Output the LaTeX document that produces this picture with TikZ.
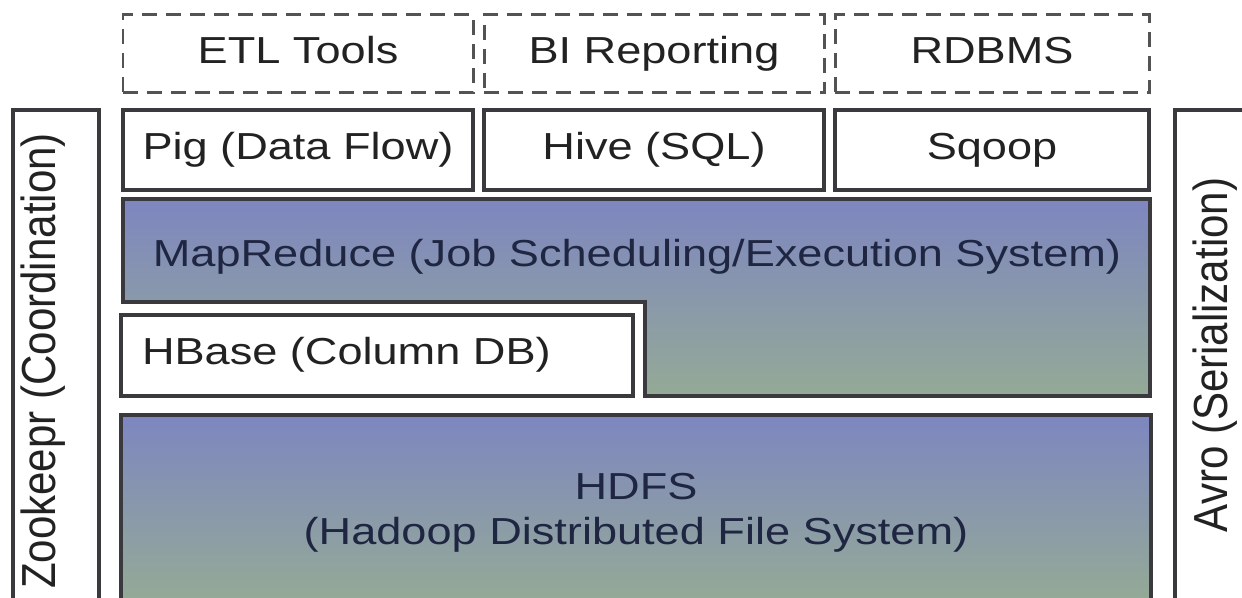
\documentclass[tikz,border=0pt]{standalone}
\usepackage{fontspec}
\newfontfamily\archfont[FakeStretch=1.2]{Liberation Sans}
\newfontfamily\sidefont[FakeStretch=0.88]{Liberation Sans}
\definecolor{layertop}{RGB}{126,134,192}
\definecolor{layerbot}{RGB}{148,170,150}
\definecolor{edge}{RGB}{58,58,62}
\definecolor{ink}{RGB}{34,34,34}
\definecolor{layerink}{RGB}{30,38,66}
\tikzset{
  outside/.style={draw=gray!65!black, line width=0.85pt, dash pattern=on 0.15cm off 0.09cm, minimum height=0.78cm, inner sep=0pt, text height=0.27cm, text depth=0.08cm, text=ink, font=\archfont\fontsize{10.7pt}{12.8pt}\selectfont},
  tool/.style={draw=edge, line width=1.1pt, fill=white, minimum height=0.8cm, inner sep=0pt, text height=0.27cm, text depth=0.08cm, text=ink, font=\archfont\fontsize{10.7pt}{12.8pt}\selectfont},
  layer/.style={draw=edge, line width=1.3pt, top color=layertop, bottom color=layerbot},
  layertext/.style={inner sep=0pt, align=center, text=layerink, font=\archfont\fontsize{10.7pt}{12.8pt}\selectfont},
  side/.style={draw=edge, line width=1.1pt, fill=white, minimum height=5cm, inner sep=0pt},
  sidetext/.style={rotate=90, inner sep=0pt, text=ink, font=\sidefont\fontsize{13.6pt}{16pt}\selectfont}
}
\begin{document}
\begin{tikzpicture}
\useasboundingbox (0,0) rectangle (12.42,5.98);
\clip (0,0) rectangle (12.42,5.98);

\node[outside, minimum width=3.5cm] (etl) at (2.98,5.44) {ETL Tools};
\node[outside, minimum width=3.4cm] (bi) at (6.54,5.44) {BI Reporting};
\node[outside, minimum width=3.14cm] (rdbms) at (9.92,5.44) {RDBMS};

\node[tool, minimum width=3.5cm] (pig) at (2.98,4.48) {Pig (Data Flow)};
\node[tool, minimum width=3.4cm] (hive) at (6.54,4.48) {Hive (SQL)};
\node[tool, minimum width=3.14cm] (sqoop) at (9.92,4.48) {Sqoop};

\coordinate (mrtl) at (1.23,3.99);
\coordinate (mrtr) at (11.50,3.99);
\coordinate (mrbr) at (11.50,2.02);
\coordinate (mrstep) at (6.45,2.02);
\coordinate (mrknee) at (6.45,2.96);
\coordinate (mrbl) at (1.23,2.96);
\draw[layer] (mrtl) -- (mrtr) -- (mrbr) -- (mrstep) -- (mrknee) -- (mrbl) -- cycle;
\node[layertext] (mapreduce) at (6.37,3.41) {MapReduce (Job Scheduling/Execution System)};

\node[tool, minimum width=5.12cm, minimum height=0.81cm, text width=4.7cm, align=left] (hbase) at (3.77,2.425) {HBase (Column DB)};

\node[layer, minimum width=10.3cm, minimum height=1.85cm, inner sep=0pt] (hdfs) at (6.36,0.905) {};
\node[layertext] (hdfslabel) at (6.36,0.85) {HDFS\\(Hadoop Distributed File System)};

\node[side, minimum width=0.86cm] (zoo) at (0.56,2.38) {};
\node[sidetext] (zoolabel) at (0.43,2.37) {Zookeepr (Coordination)};
\node[side, minimum width=1cm] (avro) at (12.25,2.38) {};
\node[sidetext] (avrolabel) at (12.15,2.43) {Avro (Serialization)};

\end{tikzpicture}
\end{document}
